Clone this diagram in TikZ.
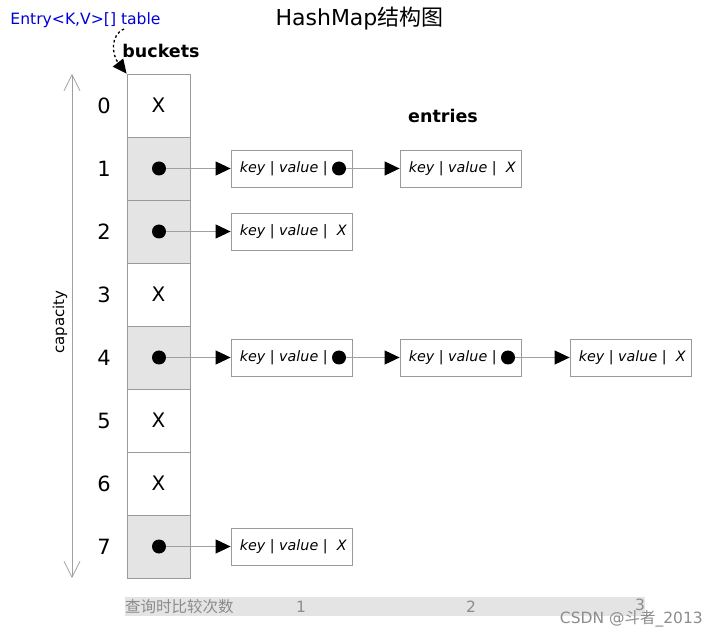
\documentclass[tikz,border=0pt]{standalone}
\usepackage{fontspec}
\setmainfont{DejaVu Sans}
\newfontfamily\cjk{Noto Sans CJK SC}
\usetikzlibrary{arrows.meta,positioning}
\definecolor{cellgray}{HTML}{E4E4E4}
\definecolor{linegray}{HTML}{A0A0A0}
\definecolor{boxgray}{HTML}{9A9A9A}
\definecolor{txtgray}{HTML}{8C8C8C}
\begin{document}
\begin{tikzpicture}[x=1pt,y=-1pt,
  bucket/.style={draw=boxgray,line width=0.8pt,minimum width=63pt,minimum height=63pt,inner sep=0pt,font=\fontsize{20}{20}\selectfont},
  full/.style={bucket,fill=cellgray},
  idx/.style={font=\fontsize{21}{21}\selectfont,inner sep=0pt},
  dotc/.style={circle,fill=black,minimum size=14pt,inner sep=0pt},
  edot/.style={circle,fill=black,minimum size=14pt,inner sep=0pt},
  entrybox/.style={draw=boxgray,line width=0.8pt,minimum width=121pt,minimum height=37pt,inner sep=0pt,fill=white},
  etext/.style={anchor=west,inner sep=0pt,font=\fontsize{14.3}{14.3}\selectfont\itshape},
  link/.style={draw=linegray,line width=0.8pt,-{Triangle[length=15pt,width=14pt,color=black]}},
  lbl/.style={font=\fontsize{17.5}{17.5}\selectfont\bfseries,inner sep=0pt},
  graytxt/.style={inner sep=0pt,text=txtgray,font=\fontsize{15.5}{15.5}\selectfont}
]
\useasboundingbox (0,0) rectangle (718,636);
% title
\node[inner sep=0pt] (title) at (359.5,19) {\fontsize{22}{22}\selectfont HashMap{\cjk 结构图}};
\node[inner sep=0pt,text=blue!85!black] (table) at (85.5,20) {\fontsize{15.6}{15.6}\selectfont Entry<K,V>[] table};
\node[lbl] (buckets) at (161,51) {buckets};
\node[lbl] (entries) at (443,116) {entries};
% buckets
\node[bucket] (b0) at (158.5,105.5) {X};
\node[full]   (b1) at (158.5,168.5) {};
\node[full]   (b2) at (158.5,231.5) {};
\node[bucket] (b3) at (158.5,294.5) {X};
\node[full]   (b4) at (158.5,357.5) {};
\node[bucket] (b5) at (158.5,420.5) {X};
\node[bucket] (b6) at (158.5,483.5) {X};
\node[full]   (b7) at (158.5,546.5) {};
% indices
\foreach \i/\y in {0/105.5,1/168.5,2/231.5,3/294.5,4/357.5,5/420.5,6/483.5,7/546.5}
  \node[idx] (i\i) at (104,\y) {\i};
% pointer to table
\coordinate (tstart) at (124,29);
\draw[line width=1.3pt,dash pattern=on 2.5pt off 2.5pt,-{Triangle[length=14pt,width=13pt]}]
  (tstart) .. controls (110,35) and (112,55) .. (b0.north west);
% capacity
\coordinate (ctop) at (72,74);
\coordinate (cbot) at (72,578);
\draw[linegray,line width=0.7pt,{Straight Barb[length=16pt,width=16pt]}-{Straight Barb[length=16pt,width=16pt]}] (ctop) -- (cbot);
\node[rotate=90,inner sep=0pt,font=\fontsize{15}{15}\selectfont] (cap) at (60,322) {capacity};
% dots in buckets
\node[dotc] (d1) at (159,168.5) {};
\node[dotc] (d2) at (159,231.5) {};
\node[dotc] (d4) at (159,357.5) {};
\node[dotc] (d7) at (159,546.5) {};
% entries
\node[entrybox] (e11) at (291.5,168.5) {};
\node[entrybox] (e12) at (460.5,168.5) {};
\node[entrybox] (e21) at (291.5,231.5) {};
\node[entrybox] (e41) at (291.5,357.5) {};
\node[entrybox] (e42) at (460.5,357.5) {};
\node[entrybox] (e43) at (630.5,357.5) {};
\node[entrybox] (e71) at (291.5,546.5) {};
% entry texts
\node[etext] (t11) at ([xshift=9pt]e11.west) {key | value |};
\node[etext] (t12) at ([xshift=9pt]e12.west) {key | value |\ \ X};
\node[etext] (t21) at ([xshift=9pt]e21.west) {key | value |\ \ X};
\node[etext] (t41) at ([xshift=9pt]e41.west) {key | value |};
\node[etext] (t42) at ([xshift=9pt]e42.west) {key | value |};
\node[etext] (t43) at ([xshift=9pt]e43.west) {key | value |\ \ X};
\node[etext] (t71) at ([xshift=9pt]e71.west) {key | value |\ \ X};
\node[edot] (f11) at (339,168.5) {};
\node[edot] (f41) at (339,357.5) {};
\node[edot] (f42) at (508,357.5) {};
% links
\draw[link] (d1) -- (e11.west);
\draw[link] (f11) -- (e12.west);
\draw[link] (d2) -- (e21.west);
\draw[link] (d4) -- (e41.west);
\draw[link] (f41) -- (e42.west);
\draw[link] (f42) -- (e43.west);
\draw[link] (d7) -- (e71.west);
% bottom bar
\fill[cellgray] (125,597) rectangle (645,616);
\node[graytxt,anchor=west,font=\fontsize{15.5}{15.5}\selectfont\cjk] (qlabel) at (125,606.5) {查询时比较次数};
\node[graytxt] (n1) at (301,606.5) {1};
\node[graytxt] (n2) at (471,606.5) {2};
\node[graytxt] (n3) at (640,605) {3};
\node[graytxt,anchor=east] (wm) at (703,618.5) {CSDN @{\cjk 斗者}\_2013};
\end{tikzpicture}
\end{document}
